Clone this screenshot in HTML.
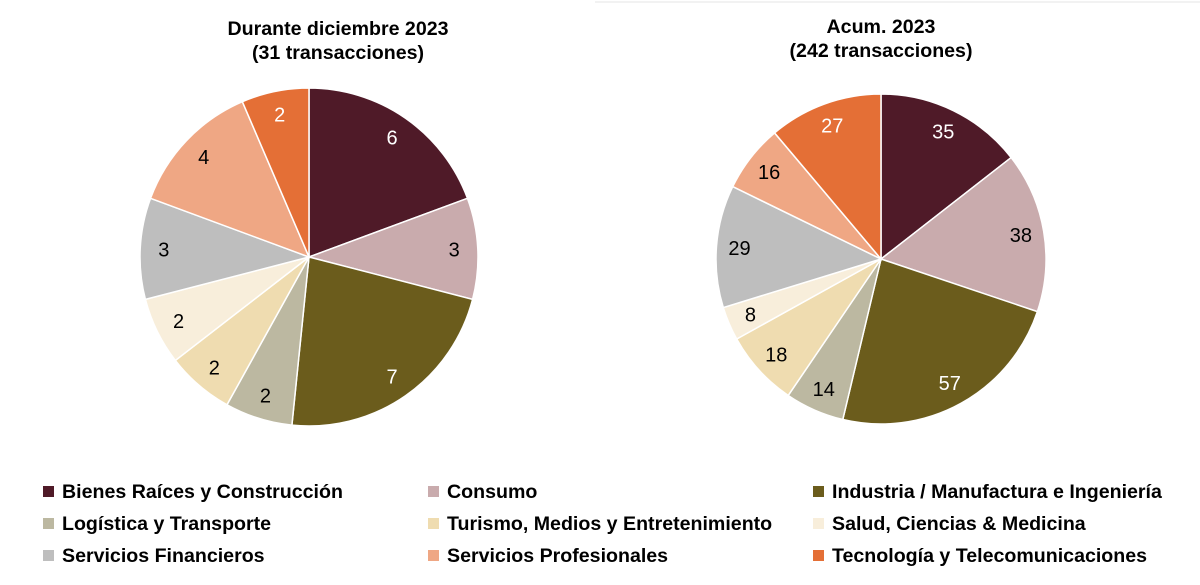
<!DOCTYPE html>
<html><head><meta charset="utf-8"><style>
body{margin:0;background:#fff;width:1200px;height:585px;overflow:hidden;font-family:"Liberation Sans",Arial,sans-serif}
svg{display:block}
</style></head><body>
<svg id="chart" width="1200" height="585">
<line x1="595" y1="2" x2="1200" y2="2" stroke="#e6e6e6" stroke-width="1"/>
<text x="338" y="35" text-anchor="middle" font-size="19.6" font-weight="bold">Durante diciembre 2023</text>
<text x="338" y="59" text-anchor="middle" font-size="19.6" font-weight="bold">(31 transacciones)</text>
<text x="881" y="33" text-anchor="middle" font-size="19.6" font-weight="bold">Acum. 2023</text>
<text x="881" y="57" text-anchor="middle" font-size="19.6" font-weight="bold">(242 transacciones)</text>
<g id="pies"></g>
<g id="legend"></g>
</svg>
<script>
const categories=["Bienes Raíces y Construcción","Consumo","Industria / Manufactura e Ingeniería","Logística y Transporte","Turismo, Medios y Entretenimiento","Salud, Ciencias & Medicina","Servicios Financieros","Servicios Profesionales","Tecnología y Telecomunicaciones"];
const decValues=[6,3,7,2,2,2,3,4,2];
const accValues=[35,38,57,14,18,8,29,16,27];
const colors=["#4f1a28","#c9abad","#6b5c1c","#bcb8a1","#efdcb0","#f8eedb","#bebebe","#efa784","#e46f36"];
const labelColors=["#fff","#000","#fff","#000","#000","#000","#000","#000","#fff"];
const NS="http://www.w3.org/2000/svg";
function drawPie(vals,cx,cy,R,name){
  const g=document.getElementById('pies');
  const total=vals.reduce((a,b)=>a+b,0);
  let a=0;
  vals.forEach((v,i)=>{
    const a0=a/total*2*Math.PI, a1=(a+v)/total*2*Math.PI; a+=v;
    const x0=cx+R*Math.sin(a0),y0=cy-R*Math.cos(a0),x1=cx+R*Math.sin(a1),y1=cy-R*Math.cos(a1);
    const p=document.createElementNS(NS,'path');
    p.setAttribute('d',`M${cx},${cy}L${x0},${y0}A${R},${R} 0 ${a1-a0>Math.PI?1:0} 1 ${x1},${y1}Z`);
    p.setAttribute('fill',colors[i]);p.setAttribute('stroke','#fff');p.setAttribute('stroke-width','1.5');
    
    
    g.appendChild(p);
    const am=(a0+a1)/2, r=R*0.86;
    const t=document.createElementNS(NS,'text');
    t.setAttribute('x',cx+r*Math.sin(am));t.setAttribute('y',cy-r*Math.cos(am)+7);
    t.setAttribute('text-anchor','middle');t.setAttribute('font-size','20');t.setAttribute('fill',labelColors[i]);
    t.textContent=v;
    
    
    g.appendChild(t);
  });
}
drawPie(decValues,309,257,169,'december-pie');
drawPie(accValues,881,259,165,'cumulative-pie');
const lg=document.getElementById('legend');
categories.forEach((c,i)=>{
  const col=i%3,row=Math.floor(i/3);
  const x=[48,433,818][col], y=491+row*32;
  const r=document.createElementNS(NS,'rect');
  r.setAttribute('x',x-5);r.setAttribute('y',y-5);r.setAttribute('width',11);r.setAttribute('height',11);r.setAttribute('fill',colors[i]);
  
  
  lg.appendChild(r);
  const t=document.createElementNS(NS,'text');
  t.setAttribute('x',x+14);t.setAttribute('y',y+7);t.setAttribute('font-size','19.6');t.setAttribute('font-weight','bold');
  t.textContent=c;
  
  
  lg.appendChild(t);
});
</script>
</body></html>
